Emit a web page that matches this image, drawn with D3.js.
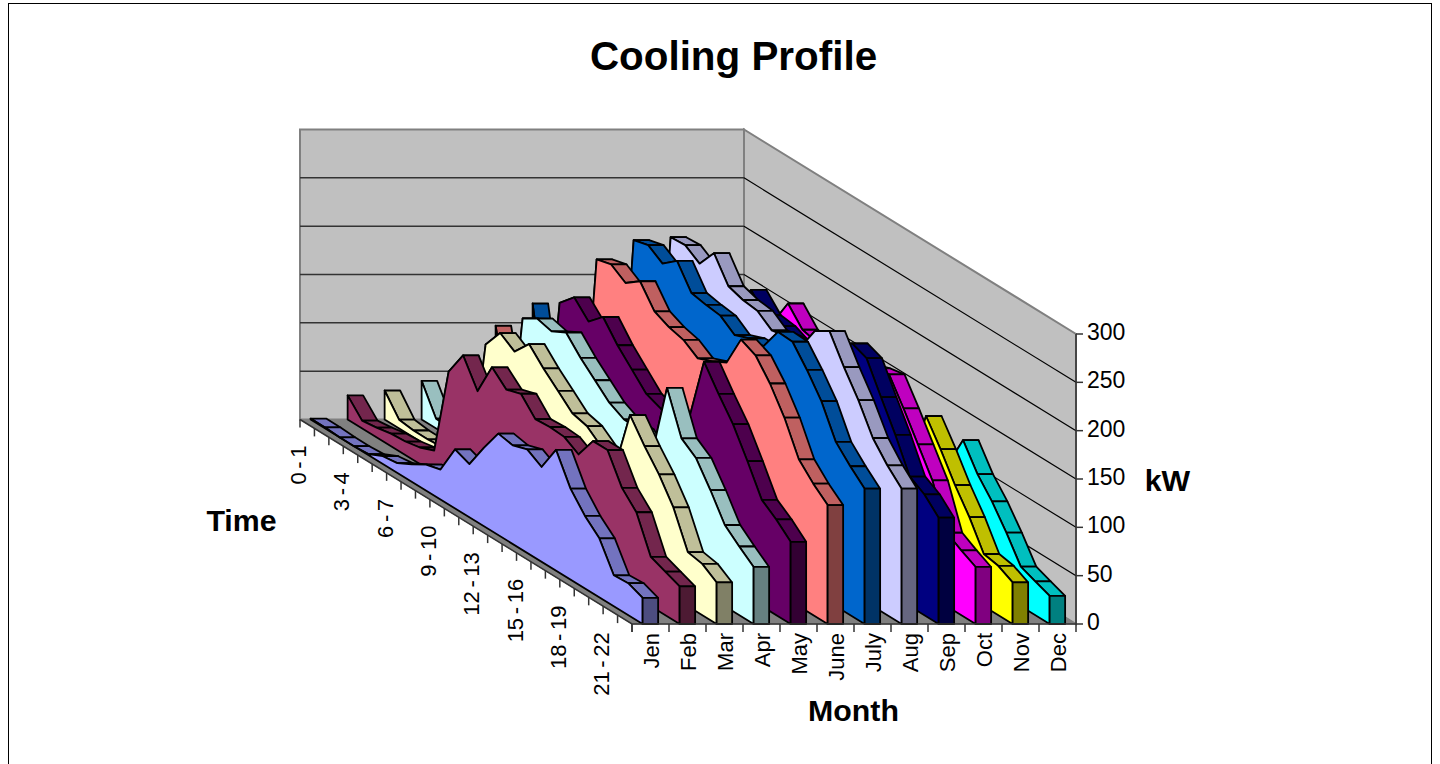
<!DOCTYPE html>
<html><head><meta charset="utf-8">
<script src="https://cdn.jsdelivr.net/npm/d3@7/dist/d3.min.js"></script>
<style>html,body{margin:0;padding:0;background:#fff;overflow:hidden}svg{display:block}text{font-family:"Liberation Sans",Arial,sans-serif;fill:#000}</style>
</head><body><svg id="c" width="1440" height="764"></svg>
<script>
const months=["Jen","Feb","Mar","Apr","May","June","July","Aug","Sep","Oct","Nov","Dec"];
const hourLabels=["0 - 1","3 - 4","6 - 7","9 - 10","12 - 13","15 - 16","18 - 19","21 - 22"];
const hourLabelIndex=[0,3,6,9,12,15,18,21];
const valueTicks=[0,50,100,150,200,250,300];
const colors=["#9999FF","#993366","#FFFFCC","#CCFFFF","#660066","#FF8080","#0066CC","#CCCCFF","#000080","#FF00FF","#FFFF00","#00FFFF"];
const jen=[1,1,0,0,1,8,10,18,27,31,61,55,81,105,102,107,98,125,94,75,61,32,33,27];
const feb=[25,8,10,13,14,17,23,114,140,112,146,132,137,120,121,120,111,134,134,104,88,51,45,39];
const mar=[30,9,7,7,8,10,14,142,163,153,170,154,140,126,122,110,100,161,138,118,93,56,53,43];
const apr=[40,10,9,9,10,12,16,169,178,174,182,165,151,137,129,128,114,189,146,135,111,84,71,59];
const may=[55,12,12,12,14,16,20,185,200,184,198,178,162,146,140,130,150,216,192,170,141,110,99,85];
const jun=[97,15,14,14,16,18,24,230,234,224,235,213,206,202,192,198,206,239,232,212,186,152,136,123];
const jul=[120,18,15,16,18,20,26,250,254,244,256,232,229,227,216,222,223,247,246,226,203,170,154,140];
const aug=[100,18,16,16,18,22,28,253,254,244,264,239,234,232,221,224,222,248,257,229,204,174,155,140];
const sep=[100,16,15,15,16,20,24,200,200,200,226,209,207,200,198,215,225,235,229,198,168,134,125,110];
const oct=[90,14,12,12,14,16,20,170,180,184,212,194,190,190,190,195,200,203,177,149,121,76,67,59];
const nov=[80,10,10,10,12,14,18,120,130,125,140,135,130,125,125,130,100,160,135,107,83,54,51,43];
const dec=[60,8,8,8,10,12,15,95,105,100,115,110,105,100,100,95,102,135,109,90,67,41,35,29];
const series=[jen,feb,mar,apr,may,jun,jul,aug,sep,oct,nov,dec];

const svg=d3.select("#c");
const X0=300,Y0=419.5,XF=632,YF=624,WALL=1076;
const depthX=d3.scaleLinear().domain([0,23]).range([0,XF-X0]);
const depthY=d3.scaleLinear().domain([0,23]).range([Y0,YF]);
const monthX=d3.scaleLinear().domain([0,12]).range([0,WALL-XF]);
const valueH=d3.scaleLinear().domain([0,300]).range([0,290]);
const RIB_OFF=10.6/36.9, RIB_W=15.5/37;
const wp=(mx,t,v)=>[X0+monthX(mx)+depthX(t),depthY(t)-valueH(v)];
const P=a=>"M"+a.map(p=>p[0].toFixed(2)+","+p[1].toFixed(2)).join("L")+"Z";

// frame
svg.append("rect").attr("x",8.5).attr("y",3.5).attr("width",1423).attr("height",800).attr("fill","#fff").attr("stroke","#000").attr("stroke-width",1);

// walls & floor
const vMax=300;
svg.append("path").attr("d",P([wp(0,0,0),wp(12,0,0),wp(12,0,vMax),wp(0,0,vMax)])).attr("fill","#C0C0C0").attr("stroke","#808080").attr("stroke-width",2);
svg.append("path").attr("d",P([wp(12,0,0),wp(12,23,0),wp(12,23,vMax),wp(12,0,vMax)])).attr("fill","#C0C0C0").attr("stroke","#808080").attr("stroke-width",2);
svg.append("path").attr("d",P([wp(0,0,0),wp(12,0,0),wp(12,23,0),wp(0,23,0)])).attr("fill","#808080").attr("stroke","#808080");
valueTicks.forEach(v=>{
  if(v>0&&v<vMax){
    const a=wp(0,0,v),b=wp(12,0,v),c=wp(12,23,v);
    svg.append("path").attr("d",`M${a}L${b}`).attr("fill","none").attr("stroke","#333").attr("stroke-width",1.5);
    svg.append("path").attr("d",`M${b}L${c}`).attr("fill","none").attr("stroke","#000").attr("stroke-width",1.2);
  }
});

// ribbons, far to near
d3.range(11,-1,-1).forEach(m=>{
  const vals=series[m], g=svg.append("g");
  const col=d3.color(colors[m]);
  const shade=k=>d3.rgb(col.r*k,col.g*k,col.b*k).formatHex();
  const x=m+RIB_OFF, x2=x+RIB_W;
  const sw=1.8;
  for(let t=0;t<23;t++){
    g.append("path").attr("d",P([wp(x,t,vals[t]),wp(x2,t,vals[t]),wp(x2,t+1,vals[t+1]),wp(x,t+1,vals[t+1])]))
     .attr("fill",shade(.75)).attr("stroke","#000").attr("stroke-width",sw).attr("stroke-linejoin","round");
  }
  const edge=vals.map((v,t)=>wp(x,t,v));
  g.append("path").attr("d",P([wp(x,0,0),...edge,wp(x,23,0)]))
   .attr("fill",colors[m]).attr("stroke","#000").attr("stroke-width",sw).attr("stroke-linejoin","round");
  g.append("path").attr("d",P([wp(x,23,0),wp(x,23,vals[23]),wp(x2,23,vals[23]),wp(x2,23,0)]))
   .attr("fill",shade(.5)).attr("stroke","#000").attr("stroke-width",sw).attr("stroke-linejoin","round");
});

// axes
const ax=svg.append("g").attr("stroke","#333").attr("stroke-width",1.5).attr("fill","none");
ax.append("path").attr("d",`M${wp(0,0,0)}L${wp(0,23,0)}L${wp(12,23,0)}`);
d3.range(0,24).forEach(t=>{const p=wp(0,t,0);ax.append("path").attr("d",`M${p}l0,8`);});
d3.range(0,13).forEach(m=>{const p=wp(m,23,0);ax.append("path").attr("d",`M${p}l0,8`);});
ax.append("path").attr("d",`M${wp(12,23,0)}L${wp(12,23,vMax)}`);
valueTicks.forEach(v=>{const p=wp(12,23,v);ax.append("path").attr("d",`M${p}l7,0`);});

const FS=23;
valueTicks.forEach(v=>{const p=wp(12,23,v);
  svg.append("text").attr("x",p[0]+11).attr("y",p[1]+6).attr("font-size",FS).text(v);});
months.forEach((n,m)=>{const p=wp(m+.5,23,0);
  svg.append("text").attr("transform",`translate(${p[0]+8},${p[1]+9}) rotate(-90)`).attr("text-anchor","end").attr("font-size",FS-1).text(n);});
hourLabels.forEach((n,i)=>{const t=hourLabelIndex[i],p=wp(0,t,0);
  svg.append("text").attr("transform",`translate(${p[0]+6},${p[1]+26}) rotate(-90)`).attr("text-anchor","end").attr("font-size",FS-1).style("word-spacing","-2.5px").text(n);});

const T=(s,x,y,fs)=>svg.append("text").attr("x",x).attr("y",y).attr("text-anchor","middle").attr("font-weight","bold").attr("font-size",fs).text(s);
T("Cooling Profile",733.5,70,40.4);
T("Time",241.5,531,30.3);
T("kW",1167.5,491,30.3);
T("Month",853.5,721,30.3);
</script></body></html>
